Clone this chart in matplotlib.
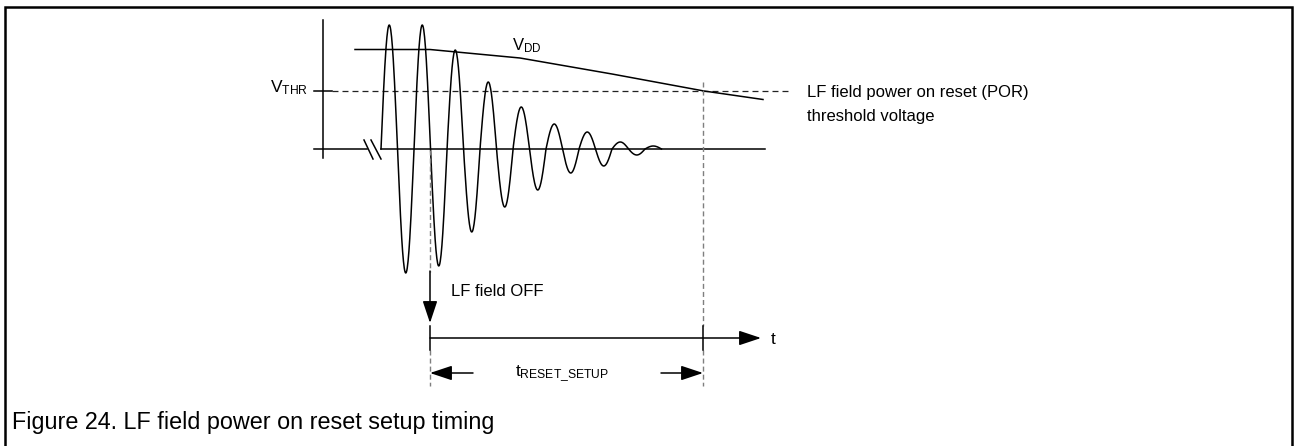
import numpy as np
import matplotlib.pyplot as plt

plt.rcParams['font.family'] = ['Liberation Sans', 'DejaVu Sans']
plt.rcParams['mathtext.fontset'] = 'custom'
plt.rcParams['mathtext.rm'] = 'Liberation Sans'
plt.rcParams['mathtext.it'] = 'Liberation Sans:italic'
plt.rcParams['lines.scale_dashes'] = False

# ---- picture data (pixel-like units, y grows downward) ----
baseline_y = 149
threshold_y = 91
signal_start = 381
half_period = 16.5
# amplitude of each half-cycle of the decaying LF field (+ up, - down)
lobe_amps = [124, -124, 124, -117, 99, -83, 67, -58, 42, -41, 25, -24, 17, -17, 7, -6, 3]
# supply voltage curve
vdd_x = [355, 430, 520, 612, 704, 763]
vdd_y = [49.5, 49.5, 58, 74, 91, 99.5]
t_off = 430        # LF field switched off
t_por = 703        # VDD crosses the POR threshold
t_axis_y = 338
dim_y = 373

caption = 'Figure 24. LF field power on reset setup timing'
por_label = ['LF field power on reset (POR)', 'threshold voltage']

fig = plt.figure(figsize=(12.94, 4.46), dpi=100)
ax = fig.add_axes([0, 0, 1, 1])
ax.set_xlim(0, 1294)
ax.set_ylim(446, 0)
ax.axis('off')

k = 'black'
lw = 1.1
gray = '#7f7f7f'

# frame
ax.plot([5, 5, 1292, 1292], [446, 7, 7, 446], color=k, lw=1.8, solid_joinstyle='miter')

# voltage axis and threshold tick
ax.plot([323, 323], [20, 158], color=k, lw=lw)
ax.plot([314, 332], [threshold_y, threshold_y], color=k, lw=lw)
ax.plot([332, 792], [threshold_y, threshold_y], color='#222222', lw=0.9,
        linestyle=(0, (4.3, 2.9)))

# baseline with break marks
ax.plot([314, 367], [baseline_y, baseline_y], color=k, lw=lw)
ax.plot([signal_start, 765], [baseline_y, baseline_y], color=k, lw=lw)
ax.plot([364, 373], [140, 159], color=k, lw=lw)
ax.plot([371, 381], [140, 159], color=k, lw=lw)

# decaying oscillation
xs_all, ys_all = [], []
for i, amp in enumerate(lobe_amps):
    x0 = signal_start + i * half_period
    xs = np.linspace(x0, x0 + half_period, 40)
    xs_all.append(xs)
    ys_all.append(baseline_y - amp * np.sin(np.pi * (xs - x0) / half_period))
ax.plot(np.concatenate(xs_all), np.concatenate(ys_all), color=k, lw=lw)

# VDD
ax.plot(vdd_x, vdd_y, color=k, lw=lw)
ax.text(512, 46, r'$\mathrm{V}_{\mathrm{DD}}$', fontsize=12, ha='left', va='center')
ax.text(308, 88, r'$\mathrm{V}_{\mathrm{THR}}$', fontsize=12.5, ha='right', va='center')

# dashed markers
dash = (0, (3.6, 2.2))
ax.plot([t_off, t_off], [150, 272], color=gray, lw=1.0, linestyle=dash)
ax.plot([t_off, t_off], [350, 386], color=gray, lw=1.0, linestyle=dash)
ax.plot([t_por, t_por], [82, 326], color=gray, lw=1.0, linestyle=dash)
ax.plot([t_por, t_por], [350, 386], color=gray, lw=1.0, linestyle=dash)
ax.plot([t_off, t_off], [326, 350], color=k, lw=lw)
ax.plot([t_por, t_por], [326, 350], color=k, lw=lw)

head = '-|>,head_length=1.35,head_width=0.45'
# LF field OFF arrow
ax.annotate('', xy=(t_off, 323), xytext=(t_off, 271),
            arrowprops=dict(arrowstyle=head, color=k, lw=lw, mutation_scale=10,
                            shrinkA=0, shrinkB=0))
ax.text(451, 292, 'LF field OFF', fontsize=12, ha='left', va='center')

# time axis
ax.annotate('', xy=(761, t_axis_y), xytext=(t_off, t_axis_y),
            arrowprops=dict(arrowstyle=head, color=k, lw=lw, mutation_scale=10,
                            shrinkA=0, shrinkB=0))
ax.text(771, 340, 't', fontsize=12.5, ha='left', va='center')

# reset setup dimension
ax.annotate('', xy=(t_off, dim_y), xytext=(473, dim_y),
            arrowprops=dict(arrowstyle=head, color=k, lw=lw, mutation_scale=10,
                            shrinkA=0, shrinkB=0))
ax.annotate('', xy=(t_por, dim_y), xytext=(661, dim_y),
            arrowprops=dict(arrowstyle=head, color=k, lw=lw, mutation_scale=10,
                            shrinkA=0, shrinkB=0))
ax.text(562, 374, r'$\mathrm{t}_{\mathrm{RESET\_SETUP}}$', fontsize=12.5,
        ha='center', va='center')

# POR label
ax.text(807, 92, por_label[0], fontsize=12, ha='left', va='center')
ax.text(807, 116, por_label[1], fontsize=12, ha='left', va='center')

# caption
ax.text(12, 423, caption, fontsize=16.8, ha='left', va='center')

fig.savefig('out.png', dpi=100)
